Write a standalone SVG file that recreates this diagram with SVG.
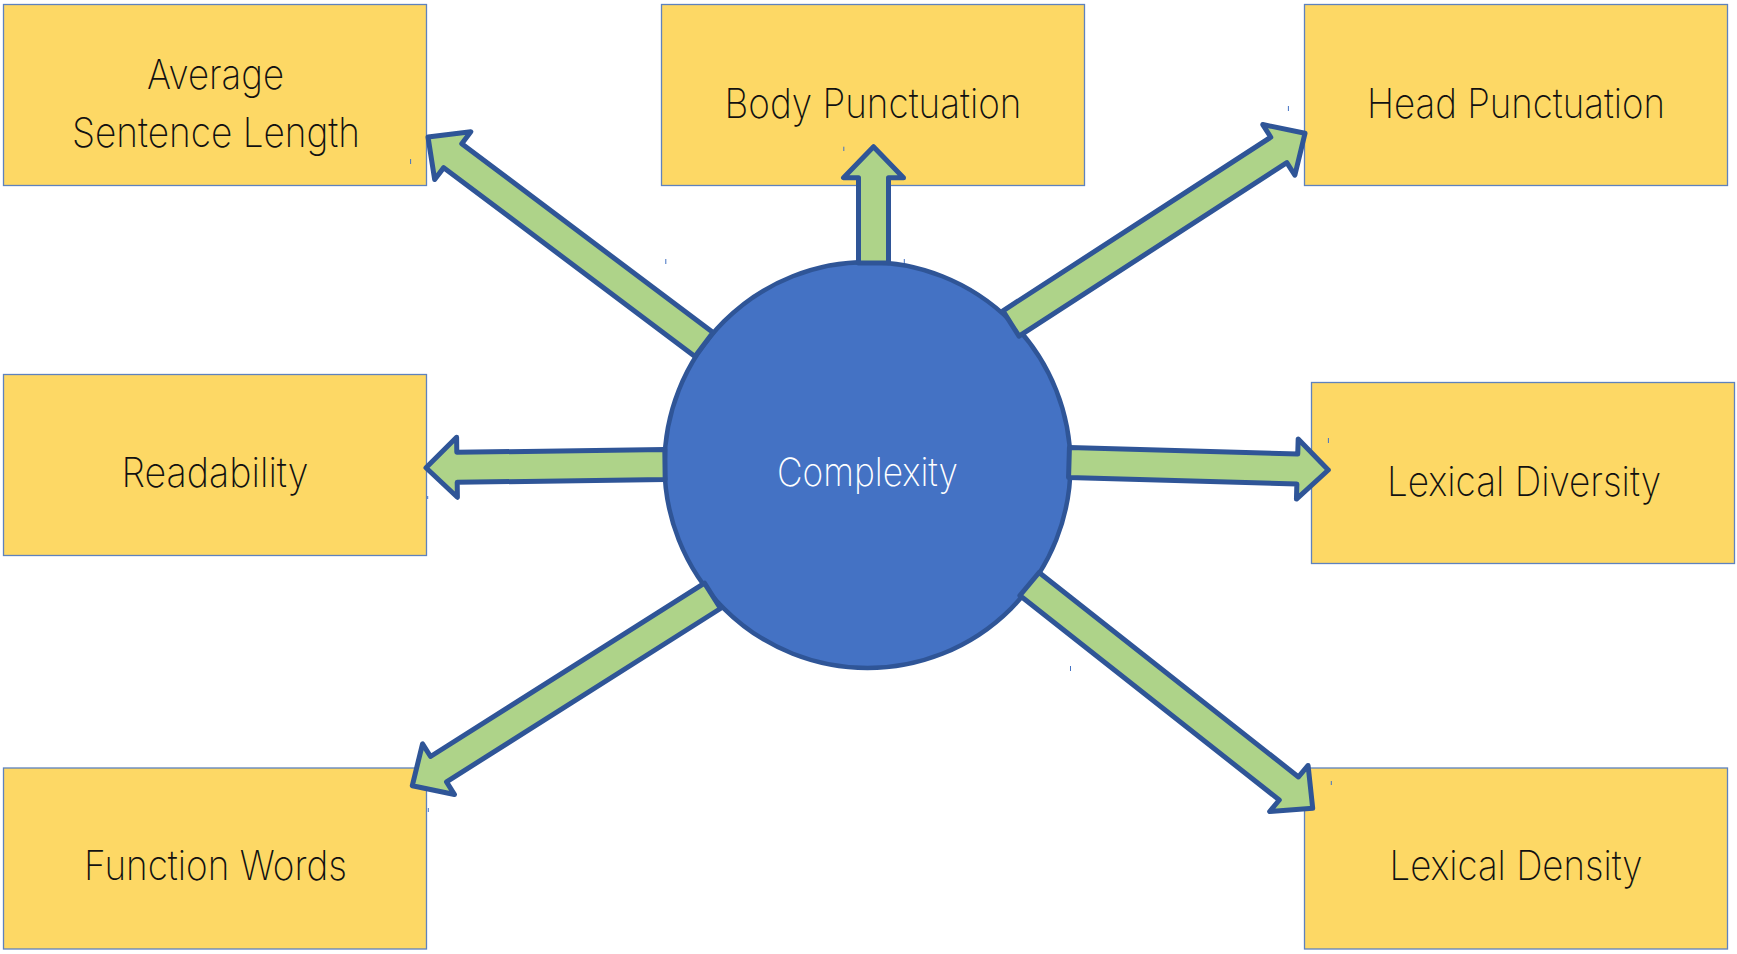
<svg xmlns="http://www.w3.org/2000/svg" width="1737" height="954" viewBox="0 0 1737 954">
  <style>
    .box { fill: #FDD865; stroke: #5E82BE; stroke-width: 1.3; }
    .label { font-family: Inter, Lato, "Liberation Sans", sans-serif; font-weight: 200; font-size: 41px; fill: #111111; }
    .hub { fill: #4472C4; stroke: #2F5597; stroke-width: 4.5; }
    .hub-label { font-family: Inter, Lato, "Liberation Sans", sans-serif; font-weight: 200; font-size: 39px; fill: #FFFFFF; }
    .arrow { fill: #AED389; stroke: #2F5597; stroke-width: 5; stroke-linejoin: round; }
    .tick { stroke: #4472C4; stroke-width: 1; }
  </style>

  <rect width="1737" height="954" fill="#FFFFFF"/>

  <!-- outer measures -->
  <g id="node-average-sentence-length">
    <rect class="box" x="3.5" y="4.5" width="423" height="181"/>
    <text class="label" x="147" y="89" textLength="137" lengthAdjust="spacingAndGlyphs">Average</text>
    <text class="label" x="72" y="147" textLength="288" lengthAdjust="spacingAndGlyphs">Sentence Length</text>
  </g>
  <g id="node-body-punctuation">
    <rect class="box" x="661.5" y="4.5" width="423" height="181"/>
    <text class="label" x="724.5" y="118" textLength="297" lengthAdjust="spacingAndGlyphs">Body Punctuation</text>
  </g>
  <g id="node-head-punctuation">
    <rect class="box" x="1304.5" y="4.5" width="423" height="181"/>
    <text class="label" x="1367" y="118" textLength="298" lengthAdjust="spacingAndGlyphs">Head Punctuation</text>
  </g>
  <g id="node-readability">
    <rect class="box" x="3.5" y="374.5" width="423" height="181"/>
    <text class="label" x="121.5" y="487" textLength="187" lengthAdjust="spacingAndGlyphs">Readability</text>
  </g>
  <g id="node-lexical-diversity">
    <rect class="box" x="1311.5" y="382.5" width="423" height="181"/>
    <text class="label" x="1387" y="495.5" textLength="274" lengthAdjust="spacingAndGlyphs">Lexical Diversity</text>
  </g>
  <g id="node-function-words">
    <rect class="box" x="3.5" y="768" width="423" height="181"/>
    <text class="label" x="84" y="880" textLength="263" lengthAdjust="spacingAndGlyphs">Function Words</text>
  </g>
  <g id="node-lexical-density">
    <rect class="box" x="1304.5" y="768" width="423" height="181"/>
    <text class="label" x="1389.5" y="880" textLength="253" lengthAdjust="spacingAndGlyphs">Lexical Density</text>
  </g>

  <!-- central hub -->
  <g id="node-complexity">
    <circle class="hub" cx="867.5" cy="465" r="203"/>
    <text class="hub-label" x="777" y="486" textLength="181" lengthAdjust="spacingAndGlyphs">Complexity</text>
  </g>

  <!-- block arrows from the hub out to each measure -->
  <g id="connectors">
    <polygon class="arrow" points="713.03,332.53 461.77,143.69 470.80,131.72 428,137 434.68,179.60 443.71,167.63 694.97,356.47"/>
    <polygon class="arrow" points="888.5,263 888.5,177.7 903.5,177.7 873.5,146.7 843.5,177.7 858.5,177.7 858.5,263"/>
    <polygon class="arrow" points="1019.03,336.18 1286.83,162.57 1294.85,175.24 1305,133.3 1262.75,124.54 1270.78,137.22 1002.98,310.83"/>
    <polygon class="arrow" points="664.8,449.6 456.8,452.29 456.6,437.29 426,467.7 457.4,497.29 457.2,482.29 665.2,479.6"/>
    <polygon class="arrow" points="1068.56,477.49 1296.87,484.09 1296.44,499.09 1328.3,470 1298.18,439.11 1297.75,454.11 1069.44,447.51"/>
    <polygon class="arrow" points="704.5,583.11 430.54,756.49 422.54,743.80 412.3,785.7 454.52,794.56 446.53,781.87 720.5,608.49"/>
    <polygon class="arrow" points="1019.9,595.52 1279.29,799.98 1269.69,811.5 1312.7,808.3 1308.09,765.42 1298.49,776.94 1039.1,572.48"/>
  </g>

  <!-- small stray cursor marks -->
  <g id="marks">
    <line class="tick" x1="410.6" y1="159" x2="410.6" y2="164"/>
    <line class="tick" x1="843.8" y1="146.7" x2="843.8" y2="151"/>
    <line class="tick" x1="665.8" y1="259" x2="665.8" y2="264"/>
    <line class="tick" x1="904.3" y1="259" x2="904.3" y2="263"/>
    <line class="tick" x1="1027.7" y1="346.7" x2="1027.7" y2="350"/>
    <line class="tick" x1="1070.5" y1="666" x2="1070.5" y2="671"/>
    <line class="tick" x1="1288.4" y1="106" x2="1288.4" y2="111"/>
    <line class="tick" x1="427.7" y1="496" x2="427.7" y2="499"/>
    <line class="tick" x1="428.3" y1="808" x2="428.3" y2="812"/>
    <line class="tick" x1="1328.4" y1="438" x2="1328.4" y2="443"/>
    <line class="tick" x1="1331.3" y1="781" x2="1331.3" y2="785"/>
  </g>
</svg>
